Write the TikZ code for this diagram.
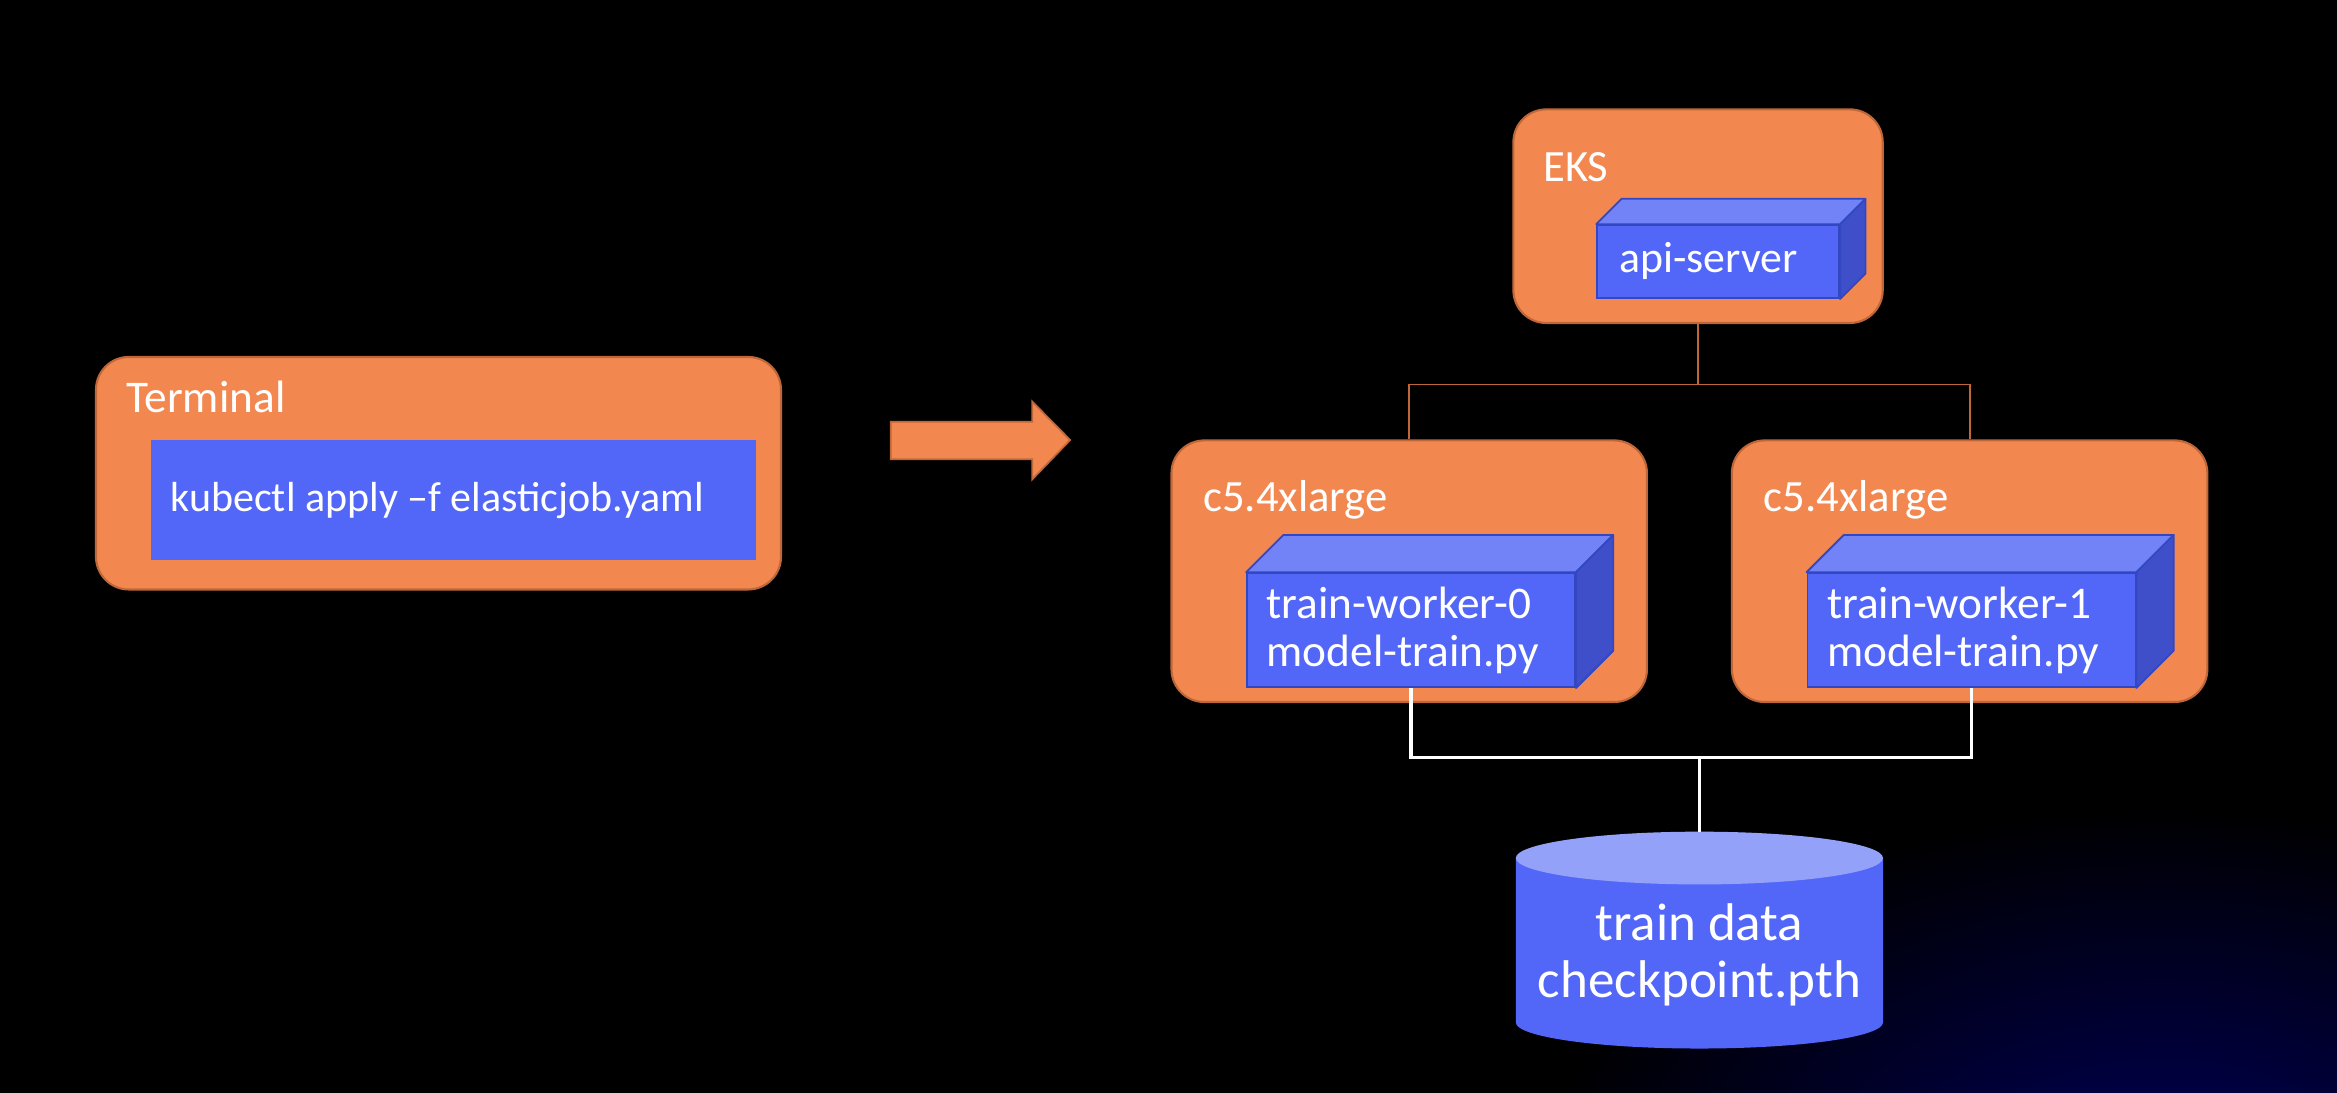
\documentclass[tikz,border=0pt]{standalone}
\usepackage{fontspec}
\setmainfont{Carlito}
\usetikzlibrary{calc}
\definecolor{org}{HTML}{F28850}
\definecolor{orgd}{HTML}{C0673A}
\definecolor{blu}{HTML}{5267F8}
\definecolor{blut}{HTML}{7283F7}
\definecolor{blus}{HTML}{3F4FC9}
\definecolor{blub}{HTML}{3347C2}
\definecolor{cyltop}{HTML}{93A1F9}
\definecolor{bgblue}{HTML}{000058}
\begin{document}
\begin{tikzpicture}[x=0.5pt,y=-0.5pt,
  obox/.style={draw=orgd, fill=org, line width=0.7pt, rounded corners=11pt, inner sep=0pt},
  bflat/.style={fill=blu, inner sep=0pt},
  bfront/.style={draw=blub, fill=blu, line width=0.6pt, inner sep=0pt},
  btop/.style={draw=blub, fill=blut, line width=0.6pt, line join=round},
  bside/.style={draw=blub, fill=blus, line width=0.6pt, line join=round},
  lbl/.style={text=white, inner sep=0pt, font=\fontsize{14.5}{16}\selectfont},
  olink/.style={draw=orgd, line width=0.6pt},
  wlink/.style={draw=white, line width=1.1pt},
]
\useasboundingbox (0,0) rectangle (1568,732.7);
\fill[black] (-10,-10) rectangle (1580,745);
\begin{scope}
  \clip (-10,-10) rectangle (1580,745);
  \shade[inner color=bgblue, outer color=black] (1450,800) ellipse [x radius=420, y radius=260];
\end{scope}

% Terminal
\node[obox, minimum width=229.8pt, minimum height=78pt] (term) at (294.2,317.5) {};
\node[lbl, anchor=base west, font=\fontsize{15.2}{17}\selectfont] (termlbl) at (84.5,277) {Terminal};
\node[bflat, minimum width=202.7pt, minimum height=40.4pt] (cmdbox) at (304.3,335.4) {};
\node[lbl, anchor=base west, font=\fontsize{14.1}{16}\selectfont] (cmd) at (114,343.5) {kubectl apply –f elasticjob.yaml};

% Arrow
\filldraw[fill=org, draw=orgd, line width=0.6pt, line join=miter]
  (597.6,283) -- (692.6,283) -- (692.6,269.5) -- (718,295.2) -- (692.6,321.6) -- (692.6,308.2) -- (597.6,308.2) -- cycle;

% EKS
\node[obox, minimum width=123.9pt, minimum height=71.65pt] (eks) at (1139.3,145.05) {};
\node[lbl, anchor=base west, font=\fontsize{15}{17}\selectfont] (ekslbl) at (1035,122) {EKS};
\node[bfront, minimum width=81.2pt, minimum height=24.5pt] (api) at (1152.8,175.5) {};
\filldraw[btop] (api.north west) -- ++(17,-17) -- ($(api.north east)+(17,-17)$) -- (api.north east) -- cycle;
\filldraw[bside] (api.north east) -- ++(17,-17) -- ($(api.south east)+(17,-17)$) -- (api.south east) -- cycle;
\node[lbl, anchor=base west, font=\fontsize{14.7}{16}\selectfont] (apilbl) at (1086,183) {api-server};

% c5 boxes
\node[obox, minimum width=159.5pt, minimum height=87.75pt] (c5a) at (945.5,383.25) {};
\node[obox, minimum width=159.5pt, minimum height=87.75pt] (c5b) at (1321.5,383.25) {};
\node[lbl, anchor=base west, font=\fontsize{15}{17}\selectfont] (c5albl) at (807,343.5) {c5.4xlarge};
\node[lbl, anchor=base west, font=\fontsize{15}{17}\selectfont] (c5blbl) at (1183,343.5) {c5.4xlarge};

\node[bfront, minimum width=110.05pt, minimum height=38.25pt] (w0) at (946.75,422.75) {};
\filldraw[btop] (w0.north west) -- ++(25,-25) -- ($(w0.north east)+(25,-25)$) -- (w0.north east) -- cycle;
\filldraw[bside] (w0.north east) -- ++(25,-25) -- ($(w0.south east)+(25,-25)$) -- (w0.south east) -- cycle;
\node[lbl, anchor=base west, align=left, font=\fontsize{15.2}{16}\selectfont] (w0lbl) at (849.5,447) {train-worker-0\\model-train.py};

\node[bfront, minimum width=110.05pt, minimum height=38.25pt] (w1) at (1322.75,422.75) {};
\filldraw[btop] (w1.north west) -- ++(25,-25) -- ($(w1.north east)+(25,-25)$) -- (w1.north east) -- cycle;
\filldraw[bside] (w1.north east) -- ++(25,-25) -- ($(w1.south east)+(25,-25)$) -- (w1.south east) -- cycle;
\node[lbl, anchor=base west, align=left, font=\fontsize{15.2}{16}\selectfont] (w1lbl) at (1225.5,447) {train-worker-1\\model-train.py};

% orange connectors
\coordinate (oj) at (1139.3,258);
\draw[olink] (eks.south) -- (oj);
\draw[olink] (c5a.north) |- (oj) -| (c5b.north);

% cylinder
\fill[blu] (1017,575.7) -- (1017,686) arc[start angle=180, end angle=360, x radius=123.2, y radius=-17.5] -- (1263.4,575.7) -- cycle;
\fill[cyltop] (1140.2,575.7) ellipse [x radius=123.2, y radius=17.7];
\coordinate (dbtop) at (1140.2,558);
\node[lbl, align=center, anchor=base, font=\fontsize{17.8}{19}\selectfont] (db) at (1140.2,669) {train data\\checkpoint.pth};

% white connectors
\coordinate (wj) at (1140.2,508);
\draw[wlink] (w0.south) |- (wj) -| (w1.south);
\draw[wlink] (wj) -- (dbtop);
\end{tikzpicture}
\end{document}
